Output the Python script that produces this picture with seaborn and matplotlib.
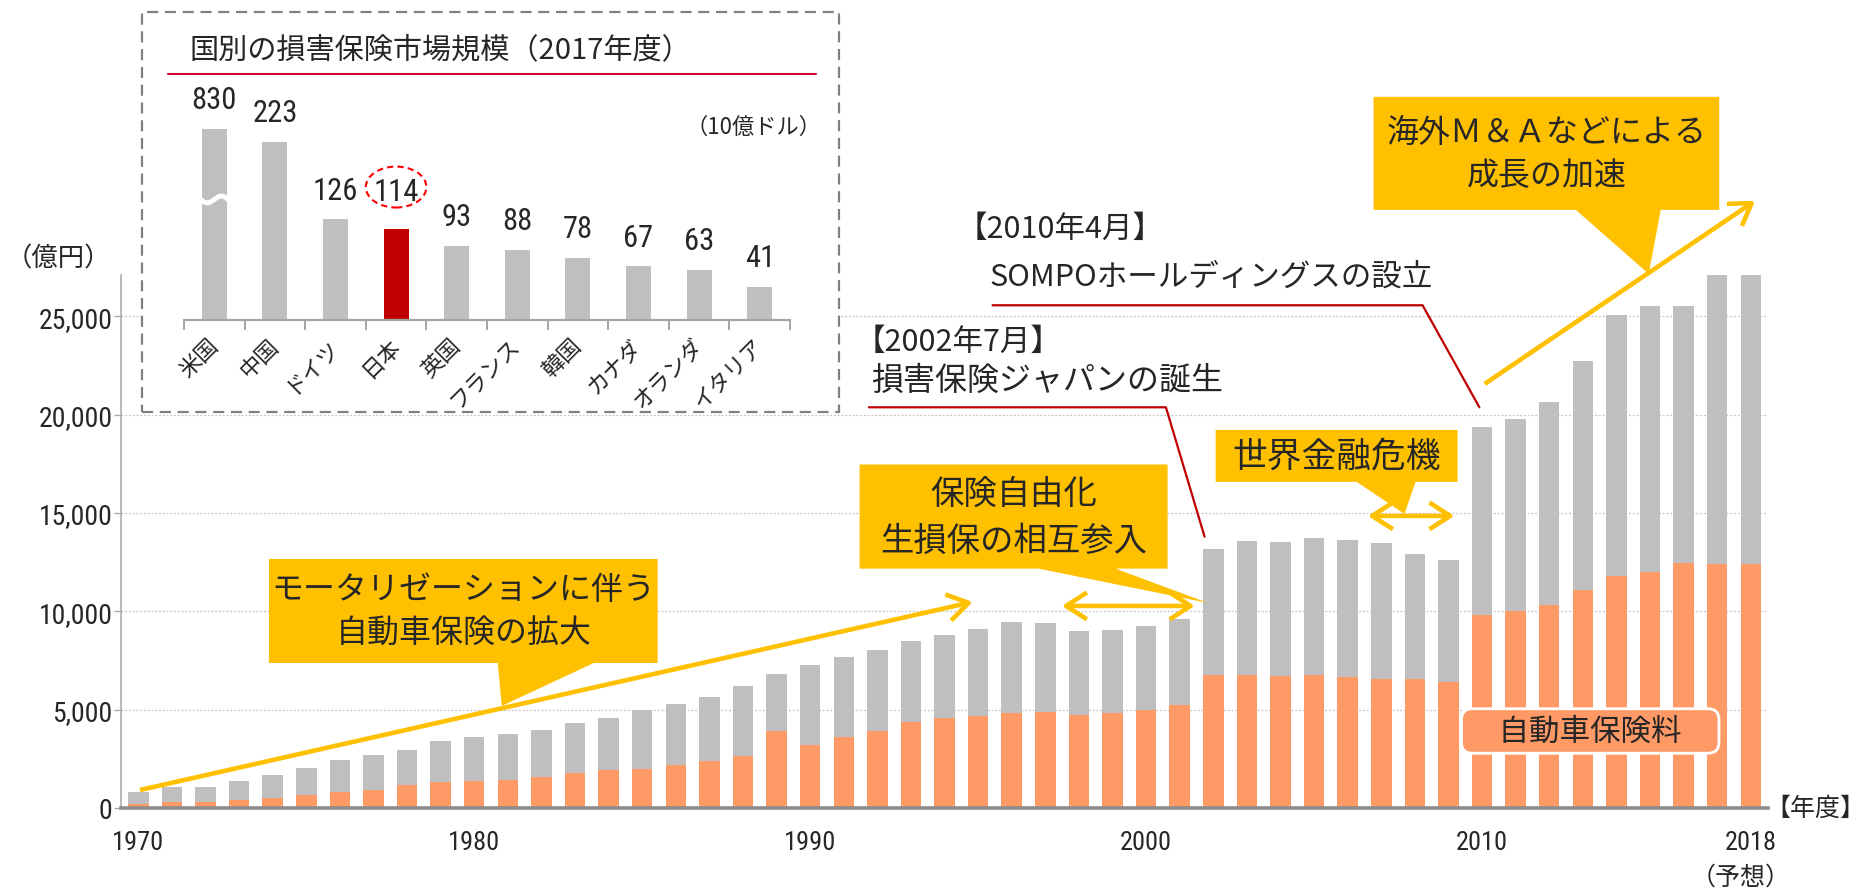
import numpy as np
import pandas as pd
import matplotlib
matplotlib.use("Agg")
import matplotlib.pyplot as plt
import seaborn as sns
from matplotlib.patches import Polygon, Rectangle, Ellipse
from matplotlib.lines import Line2D
from matplotlib.ticker import FuncFormatter

# ---------------- data ----------------
years = list(range(1970, 2019))
total_premium = [830, 1090, 1090, 1350, 1670, 2040, 2440, 2720, 2960, 3430,
                 3630, 3760, 3980, 4330, 4560, 5000, 5300, 5630, 6220, 6830,
                 7260, 7690, 8040, 8500, 8820, 9110, 9460, 9390, 9020, 9060,
                 9260, 9630, 13190, 13560, 13540, 13720, 13630, 13460, 12910, 12590,
                 19350, 19760, 20650, 22720, 25060, 25520, 25500, 27090, 27090]
auto_premium = [220, 280, 330, 390, 500, 670, 830, 940, 1150, 1300,
                1350, 1440, 1560, 1760, 1910, 2000, 2170, 2370, 2630, 3930,
                3220, 3630, 3940, 4350, 4560, 4700, 4820, 4870, 4740, 4830,
                5000, 5220, 6760, 6740, 6690, 6740, 6650, 6540, 6540, 6410,
                9830, 10020, 10320, 11090, 11800, 11980, 12460, 12410, 12410]
x_tick_years = [1970, 1980, 1990, 2000, 2010, 2018]
y_ticks = [0, 5000, 10000, 15000, 20000, 25000]

countries = ['米国', '中国', 'ドイツ', '日本', '英国', 'フランス', '韓国', 'カナダ', 'オランダ', 'イタリア']
market_size = [830, 223, 126, 114, 93, 88, 78, 67, 63, 41]
highlight_country = '日本'

# ---------------- style ----------------
GRAY = "#bfbfbf"
ORANGE = "#ff9966"
YELLOW = "#ffc000"
DARKRED = "#c00000"
AXGRAY = "#8c8c8c"
US_CAP = 240  # displayed height of the broken US bar

sns.set_style("white")
JP = ['Noto Sans CJK JP', 'DejaVu Sans']
NUM = ['Roboto Condensed', 'Noto Sans CJK JP']
plt.rcParams['font.family'] = JP

fig = plt.figure(figsize=(18.66, 8.95), dpi=100)

# ---------------- main chart ----------------
ax = fig.add_axes([0.06511, 0.09609, 0.88216, 0.5955])
ax.set_zorder(0)
df = pd.DataFrame({'year': years, 'total': total_premium, 'auto': auto_premium})
sns.barplot(data=df, x='year', y='total', native_scale=True, width=0.61, color=GRAY,
            saturation=1, errorbar=None, linewidth=0, ax=ax, zorder=2)
sns.barplot(data=df, x='year', y='auto', native_scale=True, width=0.61, color=ORANGE,
            saturation=1, errorbar=None, linewidth=0, ax=ax, zorder=3)
ax.set_xlim(1969.5, 2018.5)
ax.set_ylim(0, 27100)
ax.set_xlabel('')
ax.set_ylabel('')
ax.set_xticks(x_tick_years)
ax.set_xticklabels([str(y) for y in x_tick_years])
ax.set_yticks(y_ticks)
ax.yaxis.set_major_formatter(FuncFormatter(lambda v, p: f"{int(v):,}"))
ax.yaxis.grid(True, color='#c4c4c4', linestyle=(0, (1.5, 1.5)), linewidth=0.9)
ax.xaxis.grid(False)
ax.set_axisbelow(True)
for s in ['top', 'right']:
    ax.spines[s].set_visible(False)
ax.spines['left'].set_color('#a6a6a6')
ax.spines['left'].set_linewidth(1.1)
ax.spines['bottom'].set_color(AXGRAY)
ax.spines['bottom'].set_linewidth(2.6)
ax.spines['bottom'].set_zorder(5)
ax.tick_params(axis='y', left=True, length=5, width=0.9, color='#a6a6a6', pad=1.5,
               labelsize=20, labelfontfamily=NUM)
ax.tick_params(axis='x', bottom=False, length=0, pad=16, labelsize=19, labelfontfamily=NUM)

ax.text(2017.7, -3509, '（予想）', ha='center', va='center', fontsize=18, clip_on=False)
fig.text(0.0032, 0.7106, '（億円）', ha='left', va='center', fontsize=19)
fig.text(0.9459, 0.0961, '【年度】', ha='left', va='center', fontsize=18)


def callout(box, tail, tip, text, fs, ls=1.45):
    x0, x1, yb, yt = box
    tx0, tx1 = tail
    verts = [(x0, yt), (x1, yt), (x1, yb), (tx1, yb), tip, (tx0, yb), (x0, yb)]
    ax.add_patch(Polygon(verts, closed=True, facecolor=YELLOW, edgecolor='none',
                         zorder=6, clip_on=False))
    ax.text((x0 + x1) / 2, (yb + yt) / 2, text, ha='center', va='center', fontsize=fs,
            linespacing=ls, zorder=7, clip_on=False)


def arrow(start, end, style):
    ax.annotate('', xy=end, xytext=start, annotation_clip=False,
                arrowprops=dict(arrowstyle=style + ',head_length=0.5,head_width=0.32',
                                color=YELLOW, lw=3.3, mutation_scale=30,
                                shrinkA=0, shrinkB=0, capstyle='butt'), zorder=6)


callout((1973.89, 1985.46, 7375, 12664), (1980.70, 1983.56), (1980.82, 5188),
        'モータリゼーションに伴う\n自動車保険の拡大', 23)
callout((1991.47, 2000.64, 12171, 17466), (1996.80, 1999.09), (2001.84, 10426),
        '保険自由化\n生損保の相互参入', 24)
callout((2002.07, 2009.27, 16580, 19225), (2006.27, 2008.02), (2007.69, 14953),
        '世界金融危機', 25)
callout((2006.77, 2017.06, 30414, 36161), (2012.79, 2015.32), (2014.96, 27159),
        '海外Ｍ＆Ａなどによる\n成長の加速', 23)

arrow((1970.05, 915), (1994.84, 10478), '->')
arrow((1997.49, 10275), (2001.45, 10275), '<->')
arrow((2006.6, 14853), (2009.18, 14853), '<->')
arrow((2010.08, 21567), (2018.13, 30875), '->')

# red leader lines with event labels
ax.plot([1991.75, 2000.59, 2001.74], [20375, 20375, 13798], color=DARKRED, lw=1.6,
        clip_on=False, zorder=6)
ax.plot([1995.43, 2008.23, 2009.92], [25562, 25562, 20375], color=DARKRED, lw=1.6,
        clip_on=False, zorder=6)
ax.text(1991.33, 23752, '【2002年7月】', ha='left', va='center', fontsize=22, clip_on=False)
ax.text(1991.82, 21768, '損害保険ジャパンの誕生', ha='left', va='center', fontsize=23, clip_on=False)
ax.text(1994.36, 29448, '【2010年4月】', ha='left', va='center', fontsize=22, clip_on=False)
ax.text(1995.33, 27058, 'SOMPOホールディングスの設立', ha='left', va='center', fontsize=22,
        clip_on=False)

ax.text(2013.22, 3916, '　自動車保険料　', ha='center', va='center', fontsize=22, zorder=8,
        bbox=dict(boxstyle='round,pad=0.22,rounding_size=0.35', facecolor=ORANGE,
                  edgecolor='white', linewidth=2))

# ---------------- inset ----------------
fig.add_artist(Rectangle((0.0763, 0.5385), 0.3733, 0.4473, transform=fig.transFigure,
                         facecolor='white', edgecolor='#808080', linestyle=(0, (5, 3)),
                         linewidth=1.6, zorder=1))
fig.text(0.1018, 0.9441, '国別の損害保険市場規模（2017年度）', ha='left', va='center', fontsize=21)
fig.add_artist(Line2D([0.09, 0.4373], [0.9162, 0.9162], color='#cc0033', lw=1.5,
                      transform=fig.transFigure, zorder=2))
fig.text(0.44, 0.858, '（10億ドル）', ha='right', va='center', fontsize=16)

iax = fig.add_axes([184 / 1866, (895 - 320.7) / 895, 606 / 1866, 239 / 895])
iax.set_zorder(2)
iax.patch.set_alpha(0)
shown = [min(v, US_CAP) for v in market_size]
inset_colors = [DARKRED if c == highlight_country else GRAY for c in countries]
sns.barplot(x=countries, y=shown, hue=countries, palette=inset_colors, legend=False,
            width=0.41, saturation=1, linewidth=0, ax=iax)
iax.set_xlim(-0.5, 9.5)
iax.set_ylim(0, 300)
for s in ['top', 'right', 'left']:
    iax.spines[s].set_visible(False)
iax.spines['bottom'].set_color('#a6a6a6')
iax.spines['bottom'].set_linewidth(1.6)
iax.set_yticks([])
iax.set_xticks(range(len(countries)))
iax.set_xticklabels(countries, rotation=45, ha='right', va='center', rotation_mode='anchor',
                    fontsize=16)
iax.set_xticks(np.arange(-0.5, len(countries), 1), minor=True)
iax.tick_params(axis='x', which='major', bottom=False, length=0, pad=16)
iax.tick_params(axis='x', which='minor', bottom=True, length=7, width=1.4, color='#a6a6a6')
for i, (c, v, h) in enumerate(zip(countries, market_size, shown)):
    off = 27 if c == highlight_country else 21
    iax.annotate(str(v), xy=(i, h), xytext=(0, off), textcoords='offset points',
                 ha='center', va='center', fontsize=22, family=NUM)
# break mark on the US bar
wx = np.linspace(-0.27, 0.27, 40)
iax.plot(wx, 151 - 14 * wx + 6 * np.sin(wx / 0.27 * np.pi), color='white', lw=3.5,
         solid_capstyle='butt', zorder=5)
iax.add_patch(Ellipse((countries.index(highlight_country), 166.5), 1.0, 51.4, fill=False,
                      edgecolor='#ff0000', linestyle=(0, (3, 2)), linewidth=1.5,
                      clip_on=False, zorder=5))

fig.savefig('out.png', dpi=100)
